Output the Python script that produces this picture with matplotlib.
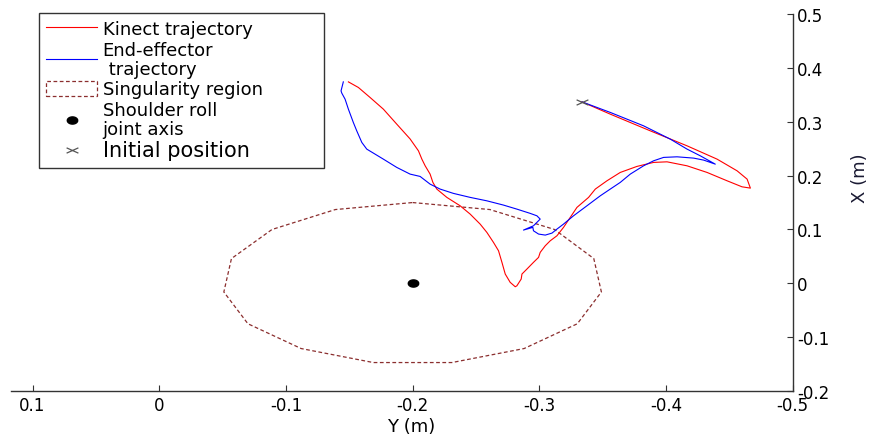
import numpy as np
import matplotlib
matplotlib.use("Agg")
import matplotlib.pyplot as plt
from matplotlib.path import Path
from matplotlib.patches import Polygon

plt.rcParams['font.family'] = ['DejaVu Sans']
plt.rcParams['axes.unicode_minus'] = False

# Kinect-measured hand trajectory (horizontal: Y in m, vertical: X in m)
kinect_Y = [-0.3337, -0.3560, -0.3876, -0.4166, -0.4403, -0.4561, -0.4640, -0.4666,
            -0.4600, -0.4482, -0.4324, -0.4166, -0.4008, -0.3902, -0.3771, -0.3639,
            -0.3534, -0.3442, -0.3389, -0.3297, -0.3244, -0.3191, -0.3139, -0.3086,
            -0.3047, -0.3007, -0.2994, -0.2954, -0.2902, -0.2863, -0.2857, -0.2823,
            -0.2810, -0.2770, -0.2731, -0.2705, -0.2678, -0.2638, -0.2586, -0.2533,
            -0.2454, -0.2375, -0.2270, -0.2191, -0.2160, -0.2138, -0.2099, -0.2073,
            -0.2046, -0.1980, -0.1875, -0.1769, -0.1664, -0.1572, -0.1493]
kinect_X = [0.3369, 0.3141, 0.2831, 0.2553, 0.2306, 0.2089, 0.1935, 0.1768,
            0.1792, 0.1904, 0.2059, 0.2182, 0.2256, 0.2245, 0.2171, 0.2059,
            0.1904, 0.1750, 0.1596, 0.1410, 0.1224, 0.1039, 0.0883, 0.0790,
            0.0698, 0.0575, 0.0482, 0.0390, 0.0265, 0.0173, 0.0080, -0.0045,
            -0.0063, 0.0019, 0.0173, 0.0390, 0.0605, 0.0761, 0.0946, 0.1100,
            0.1286, 0.1440, 0.1596, 0.1750, 0.1874, 0.2028, 0.2182, 0.2306,
            0.2460, 0.2681, 0.2955, 0.3234, 0.3451, 0.3636, 0.3740]

# Robot end-effector trajectory
effector_Y = [-0.3337, -0.3560, -0.3823, -0.4034, -0.4166, -0.4271, -0.4389, -0.4297,
              -0.4218, -0.4087, -0.3981, -0.3902, -0.3823, -0.3718, -0.3639, -0.3560,
              -0.3481, -0.3376, -0.3270, -0.3191, -0.3139, -0.3100, -0.3047, -0.2994,
              -0.2954, -0.2949, -0.2875, -0.2954, -0.3007, -0.2981, -0.2928, -0.2823,
              -0.2717, -0.2586, -0.2454, -0.2322, -0.2217, -0.2138, -0.2059, -0.1980,
              -0.1875, -0.1769, -0.1638, -0.1599, -0.1559, -0.1532, -0.1493, -0.1467,
              -0.1441, -0.1435, -0.1453]
effector_X = [0.3369, 0.3173, 0.2924, 0.2677, 0.2492, 0.2367, 0.2213, 0.2288,
              0.2325, 0.2349, 0.2338, 0.2275, 0.2182, 0.2028, 0.1874, 0.1750,
              0.1625, 0.1440, 0.1254, 0.1100, 0.1007, 0.0933, 0.0896, 0.0915,
              0.0976, 0.1039, 0.0989, 0.1069, 0.1193, 0.1254, 0.1299, 0.1378,
              0.1453, 0.1532, 0.1596, 0.1670, 0.1750, 0.1842, 0.1985, 0.2028,
              0.2152, 0.2306, 0.2492, 0.2616, 0.2831, 0.2987, 0.3234, 0.3419,
              0.3531, 0.3573, 0.3740]

# Singularity region boundary (polygon vertices)
singular_Y = [-0.200, -0.261, -0.312, -0.343, -0.349, -0.330, -0.288, -0.231,
              -0.169, -0.112, -0.070, -0.051, -0.057, -0.089, -0.139]
singular_X = [0.150, 0.137, 0.100, 0.046, -0.016, -0.075, -0.121, -0.147,
              -0.147, -0.121, -0.075, -0.016, 0.046, 0.100, 0.137]

shoulder_Y, shoulder_X = -0.200, 0.000
initial_Y, initial_X = -0.3337, 0.3369

x_ticks = [0.1, 0.0, -0.1, -0.2, -0.3, -0.4, -0.5]
x_ticklabels = ['0.1', '0', '-0.1', '-0.2', '-0.3', '-0.4', '-0.5']
y_ticks = [-0.2, -0.1, 0.0, 0.1, 0.2, 0.3, 0.4, 0.5]
y_ticklabels = ['-0.2', '-0.1', '0', '0.1', '0.2', '0.3', '0.4', '0.5']

# Slightly wide marker shapes
t = np.linspace(0, 2 * np.pi, 40)
dot_marker = Path(np.column_stack([1.45 * np.cos(t), np.sin(t)]))
cross_marker = Path([(-1, -0.45), (1, 0.45), (-1, 0.45), (1, -0.45)],
                    [Path.MOVETO, Path.LINETO, Path.MOVETO, Path.LINETO])

W, H = 877, 439
fig = plt.figure(figsize=(W / 100, H / 100), dpi=100)
ax = fig.add_axes([11 / W, 1 - 392.1 / H, (792.7 - 11) / W, (392.1 - 15) / H])

ax.plot(kinect_Y, kinect_X, color='#ff0000', lw=0.8, label='Kinect trajectory')
ax.plot(effector_Y, effector_X, color='#0000ff', lw=0.8, label='End-effector\n trajectory')
ax.add_patch(Polygon(np.column_stack([singular_Y, singular_X]), closed=True, fill=False,
                     edgecolor='#8b2e2e', lw=0.9, linestyle=(0, (3, 2)),
                     label='Singularity region'))
ax.plot([shoulder_Y], [shoulder_X], ls='none', marker=dot_marker, ms=7.5, color='black',
        label='Shoulder roll\njoint axis')
ax.plot([initial_Y], [initial_X], ls='none', marker=cross_marker, ms=8.5, mfc='none',
        mec='#555555', mew=0.9, label='Initial position')

ax.set_xlim(0.117, -0.5)
ax.set_ylim(-0.2, 0.5)
ax.set_xticks(x_ticks, x_ticklabels)
ax.set_yticks(y_ticks, y_ticklabels)

ax.spines['left'].set_visible(False)
ax.spines['top'].set_visible(False)
for s in ('right', 'bottom'):
    ax.spines[s].set_color('#333333')
    ax.spines[s].set_linewidth(1.0)
ax.yaxis.tick_right()
ax.yaxis.set_label_position('right')
ax.tick_params(axis='both', direction='in', length=4, width=0.8, color='#333333',
               labelsize=12, labelcolor='black')
ax.tick_params(axis='x', pad=3.5)
ax.tick_params(axis='y', pad=3)

ax.set_xlabel('Y (m)', fontsize=13)
ax.xaxis.set_label_coords(0.512, -0.068)
ax.set_ylabel('X (m)', fontsize=13, rotation=90, va='center', ha='center',
              color='#1a1a33')
ax.yaxis.set_label_coords(1.086, 0.568)

leg = ax.legend(loc='upper left',
                bbox_to_anchor=(39 / W, 1 - 169 / H, 285 / W, 155 / H),
                bbox_transform=fig.transFigure, mode='expand', borderaxespad=0,
                fontsize=13, frameon=True, fancybox=False, framealpha=1,
                edgecolor='#333333', handlelength=2.83, handleheight=0.9,
                handletextpad=0.3, labelspacing=0.15, borderpad=0.4)
leg.get_frame().set_linewidth(1.0)
for txt in leg.get_texts():
    txt.set_linespacing(1.05)
leg.get_texts()[4].set_fontsize(15)

fig.savefig('out.png', dpi=100)
